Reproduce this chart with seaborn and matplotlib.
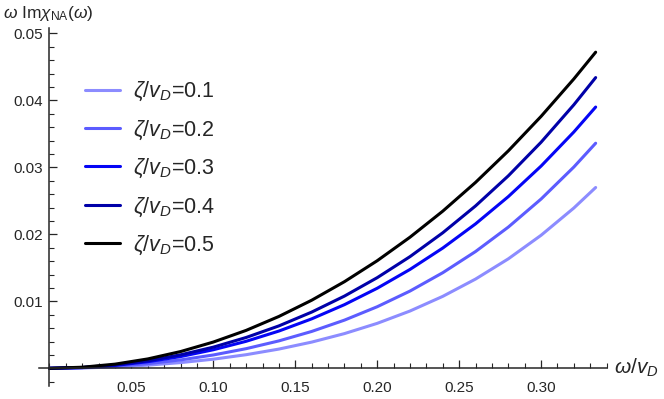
import matplotlib
matplotlib.use("Agg")
import matplotlib.pyplot as plt
import matplotlib.ticker as mticker
import pandas as pd
import seaborn as sns

# omega / v_D sample points
omega = [0.0, 0.02, 0.04, 0.06, 0.08, 0.10, 0.12, 0.14, 0.16, 0.18,
         0.20, 0.22, 0.24, 0.26, 0.28, 0.30, 0.32, 0.3333]

zeta_labels = ["0.1", "0.2", "0.3", "0.4", "0.5"]

# omega * Im chi_NA(omega)
im_chi_01 = [0, 0.00005, 0.00020, 0.00047, 0.00085, 0.00136, 0.00203, 0.00287, 0.00391,
             0.00518, 0.00671, 0.00855, 0.01074, 0.01332, 0.01634, 0.01986, 0.02393, 0.02699]
im_chi_02 = [0, 0.00008, 0.00031, 0.00069, 0.00125, 0.00199, 0.00293, 0.00409, 0.00550,
             0.00719, 0.00919, 0.01153, 0.01427, 0.01743, 0.02108, 0.02527, 0.03005, 0.03360]
im_chi_03 = [0, 0.00011, 0.00043, 0.00098, 0.00175, 0.00277, 0.00403, 0.00556, 0.00738,
             0.00950, 0.01195, 0.01476, 0.01795, 0.02156, 0.02563, 0.03019, 0.03528, 0.03900]
im_chi_04 = [0, 0.00012, 0.00050, 0.00112, 0.00201, 0.00316, 0.00460, 0.00633, 0.00839,
             0.01078, 0.01353, 0.01667, 0.02023, 0.02424, 0.02873, 0.03375, 0.03934, 0.04340]
im_chi_05 = [0, 0.00016, 0.00062, 0.00140, 0.00250, 0.00392, 0.00566, 0.00774, 0.01016,
             0.01293, 0.01606, 0.01957, 0.02346, 0.02775, 0.03246, 0.03761, 0.04320, 0.04719]

colors = ["#8c8cff", "#5c5cff", "#0505f5", "#0000a8", "#000000"]

sns.set_style("ticks")
plt.rcParams["font.family"] = ["Liberation Sans", "DejaVu Sans"]
plt.rcParams["mathtext.fontset"] = "custom"
plt.rcParams["mathtext.rm"] = "Liberation Sans"
plt.rcParams["mathtext.it"] = "Liberation Sans:italic"
plt.rcParams["mathtext.bf"] = "Liberation Sans:bold"

frames = []
for z, vals in zip(zeta_labels, [im_chi_01, im_chi_02, im_chi_03, im_chi_04, im_chi_05]):
    frames.append(pd.DataFrame({"omega": omega, "value": vals,
                                "zeta": r"$\zeta/v_D$=" + z}))
df = pd.concat(frames, ignore_index=True)
hue_order = [r"$\zeta/v_D$=" + z for z in zeta_labels]

fig = plt.figure(figsize=(6.64, 3.99), dpi=100)
ax = fig.add_axes([0.058, 0.0333, 0.8556, 0.8965])

sns.lineplot(data=df, x="omega", y="value", hue="zeta", hue_order=hue_order,
             palette=colors, linewidth=2.2, errorbar=None, ax=ax)

ax.set_xlim(-0.0067, 0.340)
ax.set_ylim(-0.0026, 0.0508)
ax.set(xlabel="", ylabel="")

for side in ["top", "right"]:
    ax.spines[side].set_visible(False)
ax.spines["left"].set_position(("data", 0))
ax.spines["bottom"].set_position(("data", 0))
ax.spines["left"].set_linewidth(1.1)
ax.spines["bottom"].set_linewidth(1.1)

ax.set_xticks([0.05, 0.10, 0.15, 0.20, 0.25, 0.30])
ax.xaxis.set_major_formatter(mticker.FormatStrFormatter("%.2f"))
ax.xaxis.set_minor_locator(mticker.MultipleLocator(0.01))
ax.set_yticks([0.01, 0.02, 0.03, 0.04, 0.05])
ax.yaxis.set_major_formatter(mticker.FormatStrFormatter("%.2f"))
ax.yaxis.set_minor_locator(mticker.MultipleLocator(0.002))

ax.tick_params(which="major", direction="in", length=6, width=0.9, labelsize=11)
ax.tick_params(which="minor", direction="in", length=3.5, width=0.8)
ax.tick_params(axis="x", pad=9)
ax.tick_params(axis="y", pad=5)

handles, labels = ax.get_legend_handles_labels()
ax.legend(handles, labels, loc="upper left", bbox_to_anchor=(0.082, 0.855),
          frameon=False, fontsize=15.5, handlelength=1.63, handletextpad=0.6,
          labelspacing=0.7, borderpad=0, borderaxespad=0)

fig.text(0.005, 0.99, r"$\omega$ Im$\chi_{\mathrm{NA}}(\omega)$", fontsize=12.5,
         ha="left", va="top")
fig.text(0.925, 0.078, r"$\omega/v_D$", fontsize=15, ha="left", va="center")

fig.savefig("out.png", dpi=100)
